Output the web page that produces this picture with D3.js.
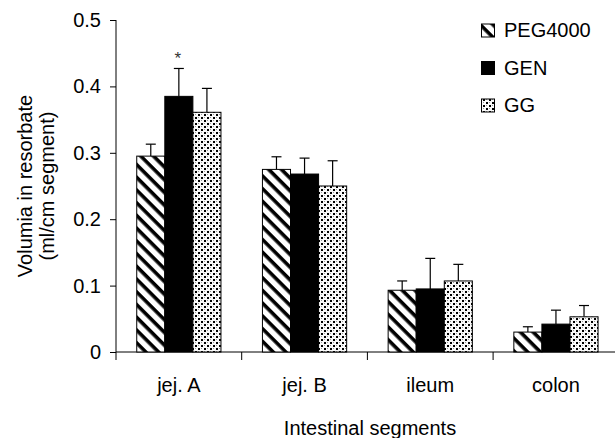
<!DOCTYPE html>
<html>
<head>
<meta charset="utf-8">
<script src="https://cdn.jsdelivr.net/npm/d3@7"></script>
<style>
  html, body { margin: 0; padding: 0; background: #fff; }
  svg { display: block; font-family: "Liberation Sans", Arial, sans-serif; }
</style>
</head>
<body>
<svg id="chart" width="615" height="438"></svg>
<script>
const categories = ["jej. A", "jej. B", "ileum", "colon"];
const seriesNames = ["PEG4000", "GEN", "GG"];
const peg4000 = [0.295, 0.275, 0.093, 0.030];
const gen     = [0.385, 0.268, 0.095, 0.042];
const gg      = [0.361, 0.250, 0.107, 0.053];
const pegErr  = [0.018, 0.019, 0.014, 0.008];
const genErr  = [0.042, 0.024, 0.046, 0.021];
const ggErr   = [0.036, 0.038, 0.025, 0.017];
const yTicks  = [0, 0.1, 0.2, 0.3, 0.4, 0.5];
const yTickLabels = ["0", "0.1", "0.2", "0.3", "0.4", "0.5"];
const significant = [{ category: "jej. A", series: "GEN" }];

const seriesValues = [peg4000, gen, gg];
const seriesErrors = [pegErr, genErr, ggErr];

const FS = 20;
const svg = d3.select("#chart");
const defs = svg.append("defs");

// Diagonal stripe pattern
const stripe = defs.append("pattern")
  .attr("id", "stripes").attr("patternUnits", "userSpaceOnUse")
  .attr("width", 9).attr("height", 9)
  .attr("patternTransform", "rotate(45)");
stripe.append("rect").attr("width", 9).attr("height", 9).attr("fill", "#fff");
stripe.append("rect").attr("x", 0).attr("y", 0).attr("width", 9).attr("height", 3.6).attr("fill", "#000");

// Dotted pattern
const dots = defs.append("pattern")
  .attr("id", "dots").attr("patternUnits", "userSpaceOnUse")
  .attr("width", 6).attr("height", 6);
dots.append("rect").attr("width", 6).attr("height", 6).attr("fill", "#fafafa");
dots.append("rect").attr("x", 0).attr("y", 0).attr("width", 2).attr("height", 2).attr("fill", "#000");
dots.append("rect").attr("x", 3).attr("y", 3).attr("width", 2).attr("height", 2).attr("fill", "#000");
dots.append("rect").attr("x", 3).attr("y", 0).attr("width", 1).attr("height", 1).attr("fill", "#999");
dots.append("rect").attr("x", 0).attr("y", 3).attr("width", 1).attr("height", 1).attr("fill", "#999");

const fills = ["url(#stripes)", "#000", "url(#dots)"];

const x0 = d3.scaleBand().domain(categories).range([116, 618.8]).padding(0);
const x1 = d3.scaleBand().domain(seriesNames)
  .range([x0.bandwidth() * 0.165, x0.bandwidth() * 0.835]).padding(0);
const y = d3.scaleLinear().domain([0, 0.5]).range([352, 20]);

// Y axis
const yAxis = d3.axisLeft(y).tickValues(yTicks)
  .tickFormat((d, i) => yTickLabels[i]).tickSize(6).tickPadding(9);
const gy = svg.append("g").attr("transform", "translate(116,0)").call(yAxis);
gy.select(".domain").attr("stroke", "#000").attr("d", "M0,20V352");
gy.selectAll(".tick line").attr("stroke", "#000");
gy.selectAll(".tick text").attr("font-size", FS).attr("fill", "#000")
  .attr("font-family", "Liberation Sans, Arial, sans-serif");

// X axis
const gx = svg.append("g").attr("transform", "translate(0,352)");
gx.append("line").attr("x1", 116).attr("x2", 615).attr("y1", 0).attr("y2", 0).attr("stroke", "#000");
gx.selectAll(".xtick").data(categories).enter().append("line")
  .attr("x1", d => x0(d)).attr("x2", d => x0(d))
  .attr("y1", 0).attr("y2", 8).attr("stroke", "#000");
gx.selectAll(".xlab").data(categories).enter().append("text")
  .attr("x", d => x0(d) + x0.bandwidth() / 2).attr("y", 40)
  .attr("text-anchor", "middle").attr("font-size", FS).attr("fill", "#000")
  .text(d => d);

// Bars
categories.forEach((cat, ci) => {
  seriesNames.forEach((s, si) => {
    const v = seriesValues[si][ci];
    const e = seriesErrors[si][ci];
    const bx = x0(cat) + x1(s);
    const bw = x1.bandwidth();
    const cx = bx + bw / 2;
    svg.append("line").attr("x1", cx).attr("x2", cx)
      .attr("y1", y(v)).attr("y2", y(v + e)).attr("stroke", "#000").attr("stroke-width", 1.2);
    svg.append("line").attr("x1", cx - 5).attr("x2", cx + 5)
      .attr("y1", y(v + e)).attr("y2", y(v + e)).attr("stroke", "#000").attr("stroke-width", 1.2);
    svg.append("rect")
      .attr("x", bx).attr("y", y(v))
      .attr("width", bw).attr("height", y(0) - y(v))
      .attr("fill", fills[si]).attr("stroke", "#000").attr("stroke-width", 1);
  });
});

// Significance marker
significant.forEach(sg => {
  const ci = categories.indexOf(sg.category);
  const si = seriesNames.indexOf(sg.series);
  const top = seriesValues[si][ci] + seriesErrors[si][ci];
  svg.append("text")
    .attr("x", x0(sg.category) + x1(sg.series) + x1.bandwidth() / 2 - 1)
    .attr("y", y(top) - 4)
    .attr("text-anchor", "middle").attr("font-size", 17).attr("fill", "#333")
    .text("*");
});

// Axis titles
svg.append("text")
  .attr("transform", "translate(32,186) rotate(-90)")
  .attr("text-anchor", "middle").attr("font-size", FS).attr("fill", "#000")
  .text("Volumia in resorbate");
svg.append("text")
  .attr("transform", "translate(54,186) rotate(-90)")
  .attr("text-anchor", "middle").attr("font-size", FS).attr("fill", "#000")
  .text("(ml/cm segment)");
svg.append("text")
  .attr("x", 370).attr("y", 435)
  .attr("text-anchor", "middle").attr("font-size", FS).attr("fill", "#000")
  .text("Intestinal segments");

// Legend
const legend = svg.append("g");
seriesNames.forEach((s, i) => {
  const ly = 24 + i * 37.5;
  legend.append("rect").attr("x", 481.5).attr("y", ly)
    .attr("width", 13).attr("height", 13)
    .attr("fill", fills[i]).attr("stroke", "#000").attr("stroke-width", 1);
  legend.append("text").attr("x", 504).attr("y", ly + 13)
    .attr("font-size", FS).attr("fill", "#000").text(s);
});
</script>
</body>
</html>
